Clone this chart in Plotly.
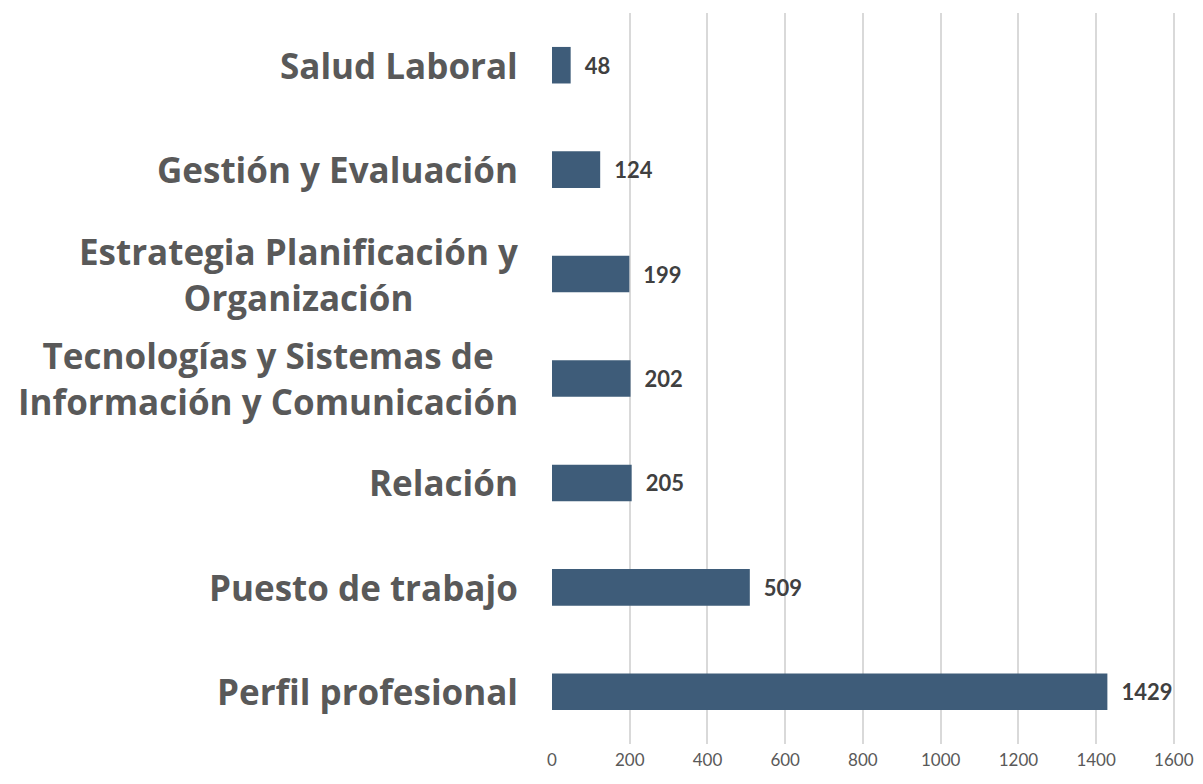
import plotly.graph_objects as go

# datos (de abajo hacia arriba)
categorias = [
    'Perfil profesional',
    'Puesto de trabajo',
    'Relación',
    'Tecnologías y Sistemas de<br>Información y Comunicación',
    'Estrategia Planificación y<br>Organización',
    'Gestión y Evaluación',
    'Salud Laboral',
]
valores = [1429, 509, 205, 202, 199, 124, 48]
ticks_x = [0, 200, 400, 600, 800, 1000, 1200, 1400, 1600]

color_barra = '#3e5c79'
gris_texto = '#595959'

fig = go.Figure()
fig.add_trace(go.Bar(
    x=valores, y=categorias, orientation='h',
    marker=dict(color=color_barra, line=dict(width=0)),
    width=0.35,
    text=['\u2002' + str(v) for v in valores], textposition='outside',
    textfont=dict(family='Lato', size=22, color='#404040', weight='bold'),
    cliponaxis=False,
    hoverinfo='skip',
))

# etiquetas de categoría centradas como anotaciones
for c in categorias:
    fig.add_annotation(
        x=0, xref='paper', y=c, yref='y',
        text=c, showarrow=False,
        xanchor='right', xshift=-32, align='center',
        font=dict(family='Open Sans', size=35, color=gris_texto, weight='bold'),
    )

# la página añade 8 px de margen al body: figura reducida para que quepa sin scroll
fig.update_layout(
    width=1187, height=768,
    margin=dict(l=544, r=20, t=5, b=32),
    plot_bgcolor='white', paper_bgcolor='white',
    showlegend=False,
    bargap=0.65,
    xaxis=dict(
        range=[0, 1603], tickvals=ticks_x,
        showgrid=True, gridcolor='#d9d9d9', gridwidth=1.5,
        zeroline=False, showline=False, automargin=False,
        tickfont=dict(family='Lato', size=17, color=gris_texto),
        ticks='', ticklabelstandoff=4, ticklabeloverflow='allow',
    ),
    yaxis=dict(
        categoryorder='array', categoryarray=categorias,
        showticklabels=False, showgrid=False, zeroline=False,
        showline=False, automargin=False,
    ),
)

fig.write_html('out.html')
